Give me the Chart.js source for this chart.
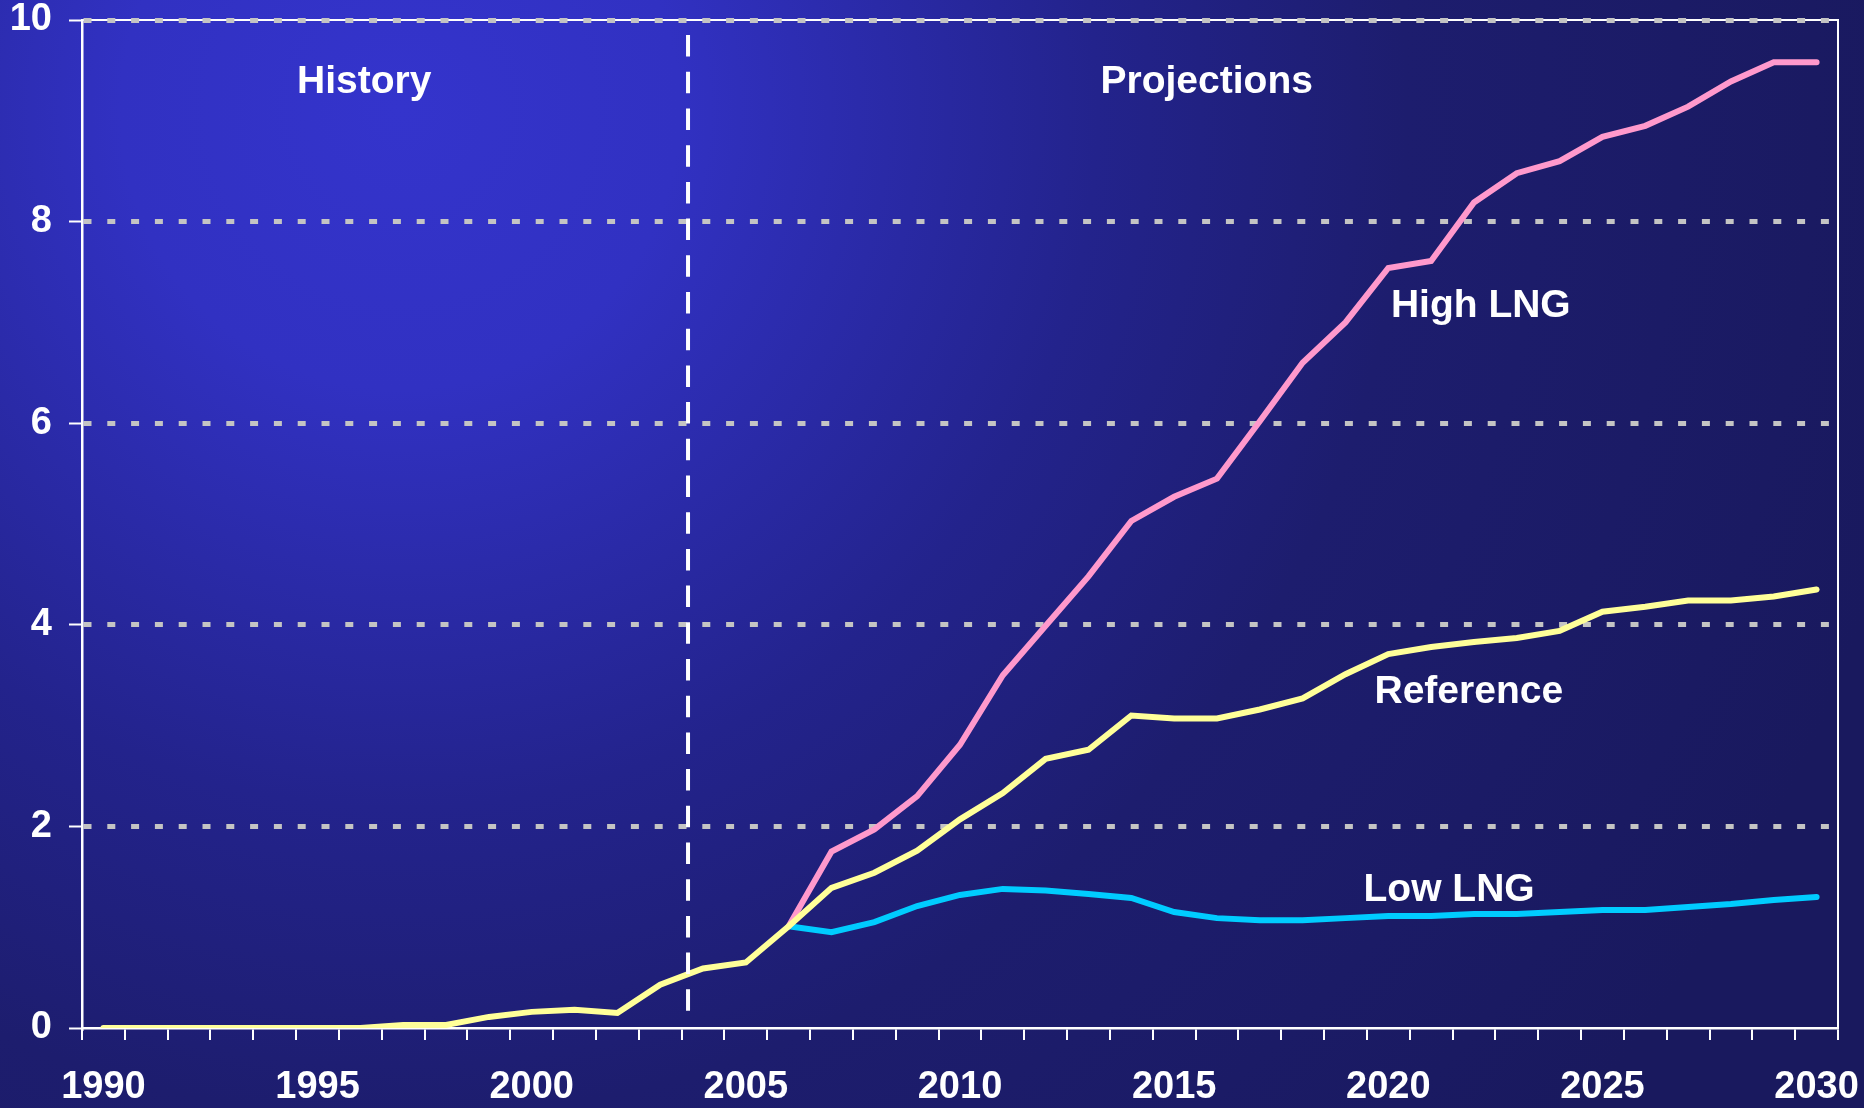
<!DOCTYPE html>
<html>
<head>
<meta charset="utf-8">
<script src="https://cdn.jsdelivr.net/npm/chart.js@4.4.1/dist/chart.umd.min.js"></script>
<style>
html,body{margin:0;padding:0;background:#1a1a5e;overflow:hidden}
canvas{display:block}
</style>
</head>
<body>
<canvas id="c" width="1864" height="1108"></canvas>
<script>
// ---------- data ----------
const years = ['1990','1991','1992','1993','1994','1995','1996','1997','1998','1999',
  '2000','2001','2002','2003','2004','2005','2006','2007','2008','2009',
  '2010','2011','2012','2013','2014','2015','2016','2017','2018','2019',
  '2020','2021','2022','2023','2024','2025','2026','2027','2028','2029','2030'];

const referenceCase = [0,0,0,0,0,0,0,0.03,0.03,0.11,
  0.16,0.18,0.15,0.43,0.59,0.65,1.01,1.39,1.54,1.76,
  2.07,2.33,2.67,2.76,3.10,3.07,3.07,3.16,3.27,3.51,
  3.71,3.78,3.83,3.87,3.94,4.13,4.18,4.24,4.24,4.28,4.35];

const highLNG = [null,null,null,null,null,null,null,null,null,null,
  null,null,null,null,null,null,1.01,1.75,1.97,2.30,
  2.81,3.50,3.99,4.48,5.03,5.27,5.45,6.02,6.60,7.00,
  7.54,7.61,8.19,8.48,8.60,8.84,8.95,9.14,9.39,9.58,9.58];

const lowLNG = [null,null,null,null,null,null,null,null,null,null,
  null,null,null,null,null,null,1.01,0.95,1.05,1.21,
  1.32,1.38,1.365,1.33,1.29,1.15,1.09,1.07,1.07,1.09,
  1.11,1.11,1.13,1.13,1.15,1.17,1.17,1.20,1.23,1.27,1.30];

const yTicks = [0, 2, 4, 6, 8, 10];
const xLabelEvery = 5;

const regionLabels = ['History', 'Projections'];
const regionLabelYear = [1996.09, 2015.76];
const regionLabelValue = [9.38, 9.38];

const seriesLabels = ['High LNG', 'Reference', 'Low LNG'];
const seriesLabelYear = [2022.16, 2021.88, 2021.42];
const seriesLabelValue = [7.16, 3.33, 1.37];

const dividerYear = 2003.65;
const dividerFrom = 0.11, dividerTo = 9.85;

// ---------- styling ----------
const FONT = '"Liberation Sans", Arial, Helvetica, sans-serif';
const WHITE = '#FFFFFF';

function xAt(chart, year) {
  return chart.scales.x.getPixelForValue(year - Number(years[0]));
}

const backgroundPlugin = {
  id: 'bg',
  beforeDraw(chart) {
    const {ctx, width, height, chartArea: a} = chart;
    ctx.save();
    const g = ctx.createRadialGradient(400, 110, 0, 400, 110, 1550);
    g.addColorStop(0, '#3434CC');
    g.addColorStop(0.18, '#3131C2');
    g.addColorStop(0.45, '#23238C');
    g.addColorStop(0.65, '#1D1D6E');
    g.addColorStop(1, '#19195E');
    ctx.fillStyle = g;
    ctx.fillRect(0, 0, width, height);
    // top and right frame
    ctx.strokeStyle = WHITE;
    ctx.lineWidth = 2;
    ctx.beginPath();
    ctx.moveTo(a.left, a.top);
    ctx.lineTo(a.right, a.top);
    ctx.lineTo(a.right, a.bottom);
    ctx.stroke();
    ctx.restore();
  }
};

const overlayPlugin = {
  id: 'overlay',
  afterDatasetsDraw(chart) {
    const {ctx} = chart;
    const y = chart.scales.y;
    ctx.save();
    // divider
    const dx = xAt(chart, dividerYear);
    ctx.strokeStyle = WHITE;
    ctx.lineWidth = 4;
    ctx.setLineDash([21.5, 15.2]);
    ctx.beginPath();
    ctx.moveTo(dx, y.getPixelForValue(dividerTo));
    ctx.lineTo(dx, y.getPixelForValue(dividerFrom));
    ctx.stroke();
    ctx.setLineDash([]);
    // text labels
    ctx.fillStyle = WHITE;
    ctx.textAlign = 'center';
    ctx.textBaseline = 'middle';
    ctx.font = 'bold 39px ' + FONT;
    regionLabels.forEach((t, i) => {
      ctx.fillText(t, xAt(chart, regionLabelYear[i]), y.getPixelForValue(regionLabelValue[i]));
    });
    seriesLabels.forEach((t, i) => {
      ctx.fillText(t, xAt(chart, seriesLabelYear[i]), y.getPixelForValue(seriesLabelValue[i]));
    });
    ctx.restore();
  }
};

const lineStyle = {
  borderWidth: 6,
  pointRadius: 0,
  pointHoverRadius: 0,
  tension: 0,
  borderCapStyle: 'round',
  borderJoinStyle: 'miter',
  spanGaps: false,
  fill: false
};

new Chart(document.getElementById('c'), {
  type: 'line',
  data: {
    labels: years,
    datasets: [
      Object.assign({label: 'Reference', data: referenceCase, borderColor: '#FFFF99'}, lineStyle),
      Object.assign({label: 'High LNG', data: highLNG, borderColor: '#FF99CC'}, lineStyle),
      Object.assign({label: 'Low LNG', data: lowLNG, borderColor: '#00CCFF'}, lineStyle)
    ]
  },
  options: {
    responsive: false,
    animation: false,
    events: [],
    layout: {padding: {top: 20, right: 26, left: 0, bottom: 0}},
    plugins: {legend: {display: false}, tooltip: {enabled: false}, title: {display: false}},
    scales: {
      x: {
        type: 'category',
        offset: true,
        ticks: {
          autoSkip: false, maxRotation: 0, minRotation: 0,
          color: WHITE, padding: 25,
          font: {family: FONT, size: 38, weight: 'bold'},
          callback: (v, i) => (Number(years[i]) % xLabelEvery === 0 ? years[i] : '')
        },
        grid: {
          offset: true, drawOnChartArea: false, drawTicks: true,
          tickLength: 12, color: WHITE, lineWidth: 2, tickColor: WHITE, tickWidth: 2
        },
        border: {color: WHITE, width: 2.5},
        afterFit(s) { s.height = 80; s.paddingLeft = 0; s.paddingRight = 0; }
      },
      y: {
        min: 0, max: 10,
        afterBuildTicks(s) { s.ticks = yTicks.map(v => ({value: v})); },
        ticks: {
          color: WHITE, padding: 17,
          font: {family: FONT, size: 38, weight: 'bold', lineHeight: 1}
        },
        grid: {
          color: c => (c.tick && c.tick.value === 0 ? 'rgba(0,0,0,0)' : '#C4C4C4'),
          lineWidth: 5, drawTicks: true, tickLength: 13,
          tickColor: WHITE, tickWidth: 2
        },
        border: {color: WHITE, width: 2.5, dash: [8, 15.8]},
        afterFit(s) { s.width = 82; s.paddingTop = 0; s.paddingBottom = 0; }
      }
    }
  },
  plugins: [backgroundPlugin, overlayPlugin]
});
</script>
</body>
</html>
